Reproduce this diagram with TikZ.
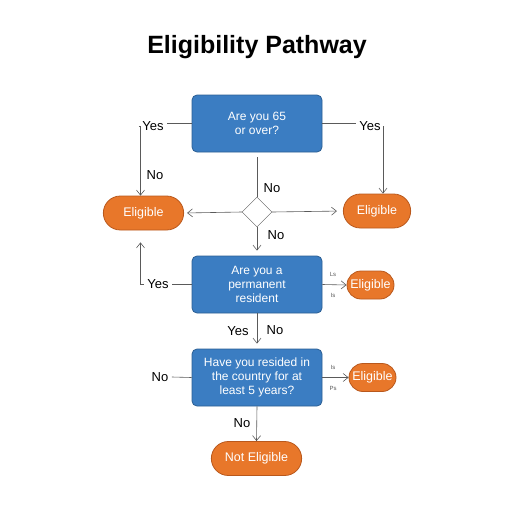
\documentclass[tikz,border=0pt]{standalone}
\usepackage{fontspec}
\setmainfont{Liberation Sans}
\usepackage{tikz}
\usetikzlibrary{arrows.meta,shapes.geometric,shapes.misc,positioning,calc}
\definecolor{qblue}{HTML}{3B7DC2}
\definecolor{qbluedark}{HTML}{2B5E93}
\definecolor{eorange}{HTML}{E8772A}
\definecolor{eorangedark}{HTML}{B9581C}
\definecolor{linegray}{HTML}{5A5A5A}
\tikzset{
    >={Straight Barb[length=5pt,width=8pt]},
    question/.style={
        rectangle,
        rounded corners=5pt,
        fill=qblue,
        draw=qbluedark, thick,
        text=white,
        minimum width=130pt,
        minimum height=57pt,
        align=center,
        font={\fontsize{12pt}{14pt}\selectfont}
    },
    result/.style={
        rounded rectangle,
        fill=eorange,
        draw=eorangedark, thick,
        text=white,
        minimum height=34pt,
        font={\fontsize{12.5pt}{14pt}\selectfont}
    },
    smallresult/.style={result, minimum height=28pt, inner xsep=4pt},
    choice/.style={
        diamond, draw=linegray, fill=white,
        minimum size=30pt, inner sep=0pt
    },
    line/.style={draw=linegray, line width=0.6pt},
    answer/.style={font={\fontsize{13pt}{15pt}\selectfont}},
    tiny/.style={font={\fontsize{6pt}{7pt}\selectfont}, text=linegray},
}
\begin{document}
\begin{tikzpicture}[x=1pt, y=-1pt]
\useasboundingbox (0,0) rectangle (512,512);

\node [font={\fontsize{25pt}{28pt}\bfseries\selectfont}] (title) at (257,47) {Eligibility Pathway};

% questions
\node [question] (q1) at (257,123.5) {Are you 65\\or over?};
\node [question] (q2) at (257,284.5) {Are you a\\permanent\\resident};
\node [question] (q3) at (257,377.5) {Have you resided in\\the country for at\\least 5 years?};
\node [choice] (d) at (257,212) {};

% results
\node [result, minimum width=87pt] (el) at (143.5,213) {Eligible};
\node [result, minimum width=74pt] (er) at (377,211) {Eligible};
\node [smallresult, minimum width=55pt] (e2) at (370.5,285) {Eligible};
\node [smallresult, minimum width=55pt] (e3) at (372.5,377.5) {Eligible};
\node [result, minimum width=97pt] (ne) at (256.5,458.5) {Not Eligible};

% answers
\node [answer] (yes1) at (153,126) {Yes};
\node [answer] (no1) at (155,175) {No};
\node [answer] (yes2) at (370,126) {Yes};
\node [answer] (no2) at (272,188) {No};
\node [answer] (no3) at (276,235) {No};
\node [answer] (yes3) at (158,284) {Yes};
\node [answer] (yes4) at (238,331) {Yes};
\node [answer] (no4) at (275,330) {No};
\node [answer] (no5) at (160,377) {No};
\node [answer] (no6) at (242,423) {No};

\foreach \n/\t/\p in {t1/Ls/{333,274}, t2/Is/{333,295}, t3/Is/{333,367}, t4/Ps/{333,388}}
  \node [tiny] (\n) at (\p) {\t};

% connectors
\draw [line] (q1.west) -- (q1.west -| yes1.east);
\draw [line, ->] (yes1.west) -| ([xshift=-3pt]el.north);
\draw [line] (q1.east) -- (q1.east -| yes2.west);
\draw [line, ->] (yes2.east) -| ([xshift=6pt]er.north);
\draw [line, shorten <=5pt] (q1.south) -- (d.north);
\draw [line, ->, shorten >=3pt] (d.west) -- (el.east);
\draw [line, ->, shorten >=6pt] (d.east) -- (er.west);
\draw [line, ->, shorten >=5pt] (d.south) -- (q2.north);

\draw [line] (q2.west) -- (q2.west -| yes3.east);
\draw [line, ->, shorten >=12pt] (yes3.west) -| ([xshift=-3pt]el.south);
\draw [line, ->] (q2.east) -- (e2.west);
\draw [line, ->, shorten >=5pt] (q2.south) -- (q3.north);

\draw [line] (no5.east) -- (q3.west);
\draw [line, ->] (q3.east) -- (e3.west);
\draw [line, ->] (q3.south) -- (ne.north);

\end{tikzpicture}
\end{document}
